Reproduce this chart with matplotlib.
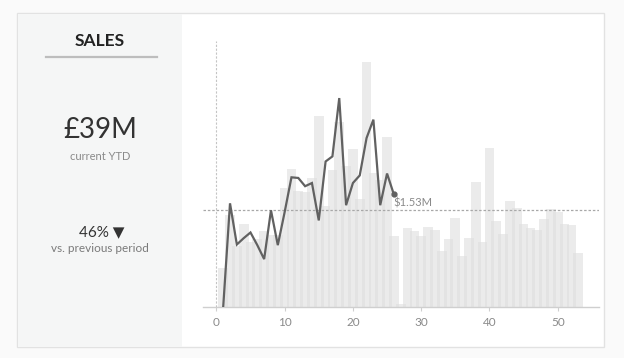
import matplotlib
matplotlib.use("Agg")
import matplotlib.pyplot as plt
from matplotlib.patches import Rectangle
import numpy as np

# ---------------- data ----------------
bar_weeks = list(range(1, 54))
prev_sales = [0.62, 1.46, 0.97, 1.31, 1.03, 1.08, 1.20, 1.14, 1.14, 1.88,
              2.18, 1.83, 1.82, 2.04, 3.02, 1.60, 2.17, 2.92, 2.23, 2.50,
              1.71, 3.87, 2.12, 2.01, 2.69, 1.12, 0.05, 1.25, 1.20, 1.12,
              1.27, 1.22, 0.89, 1.08, 1.41, 0.81, 1.09, 1.98, 1.03, 2.51,
              1.36, 1.16, 1.68, 1.57, 1.31, 1.25, 1.22, 1.39, 1.55, 1.50,
              1.31, 1.30, 0.86]
line_weeks = list(range(1, 27))
curr_sales = [0.00, 1.64, 0.99, 1.09, 1.18, 0.98, 0.76, 1.53, 0.98, 1.50,
              2.05, 2.04, 1.91, 1.96, 1.37, 2.30, 2.38, 3.30, 1.61, 1.96,
              2.08, 2.67, 2.96, 1.61, 2.11, 1.78]
reference_avg = 1.53
x_ticks = [0, 10, 20, 30, 40, 50]

title_text = "SALES"
kpi_value = "£39M"
kpi_label = "current YTD"
change_value = "46%"
change_label = "vs. previous period"

# ---------------- figure ----------------
W, H = 624, 358
fig = plt.figure(figsize=(W / 100, H / 100), dpi=100)
fig.patch.set_facecolor("#fafafa")
plt.rcParams['font.family'] = ['Lato', 'DejaVu Sans']

def fx(px):
    return px / W

def fy(py):
    return 1 - py / H

# card
fig.patches.append(Rectangle((fx(17), fy(347)), fx(604) - fx(17), fy(13) - fy(347),
                             transform=fig.transFigure, facecolor="white",
                             edgecolor="#e2e2e2", linewidth=1, zorder=-2))
# left panel
fig.patches.append(Rectangle((fx(17.5), fy(346.5)), fx(182) - fx(17.5), fy(13.5) - fy(346.5),
                             transform=fig.transFigure, facecolor="#f5f6f6",
                             edgecolor="none", zorder=-1))

# KPI texts
fig.text(fx(100), fy(41), title_text, ha="center", va="center", fontsize=12.5,
         fontweight="bold", color="#222222")
fig.add_artist(plt.Line2D([fx(46), fx(157)], [fy(57), fy(57)], transform=fig.transFigure,
                          color="#bdbdbd", linewidth=1.6))
fig.text(fx(100), fy(130), kpi_value, ha="center", va="center", fontsize=20,
         color="#333333")
fig.text(fx(100), fy(156), kpi_label, ha="center", va="center", fontsize=8,
         color="#8a8a8a")
fig.text(fx(102), fy(232), change_value + " ▼", ha="center", va="center", fontsize=11,
         color="#333333", family=['Lato', 'DejaVu Sans'])
fig.text(fx(100), fy(249), change_label, ha="center", va="center", fontsize=8.5,
         color="#7a7a7a")

# chart axes
ax = fig.add_axes([fx(202.7), fy(307.3), fx(598.7) - fx(202.7), fy(41) - fy(307.3)])
ax.set_zorder(2)
ax.set_facecolor("none")
ax.bar(bar_weeks, prev_sales, width=1.42, color="#dedede", alpha=0.58,
       linewidth=0, zorder=1)
ax.plot(line_weeks, curr_sales, color="#616161", linewidth=1.6, zorder=3,
        solid_joinstyle="miter")
ax.plot([line_weeks[-1]], [curr_sales[-1]], "o", color="#616161", markersize=3.5, zorder=4)
ax.axhline(reference_avg, color="#a8a8a8", linewidth=0.9, linestyle=(0, (2, 1.5)), zorder=2)
ax.axvline(0, color="#c4c4c4", linewidth=0.8, linestyle=(0, (2, 1.5)), zorder=0.5)
ax.annotate(f"${reference_avg:.2f}M", xy=(line_weeks[-1], reference_avg),
            xytext=(0, 1.5), textcoords="offset points", ha="left", va="bottom",
            fontsize=8, color="#8a8a8a")

ax.set_xlim(-2, 56)
ax.set_ylim(0, 4.2)
ax.set_xticks(x_ticks)
ax.set_yticks([])
for s in ["top", "right", "left"]:
    ax.spines[s].set_visible(False)
ax.spines["bottom"].set_color("#cfcfcf")
ax.spines["bottom"].set_linewidth(1)
ax.tick_params(axis="x", colors="#cfcfcf", labelcolor="#8a8a8a", labelsize=8.5,
               length=3, width=0.8, pad=4)

fig.savefig("out.png", dpi=100, facecolor=fig.get_facecolor())
